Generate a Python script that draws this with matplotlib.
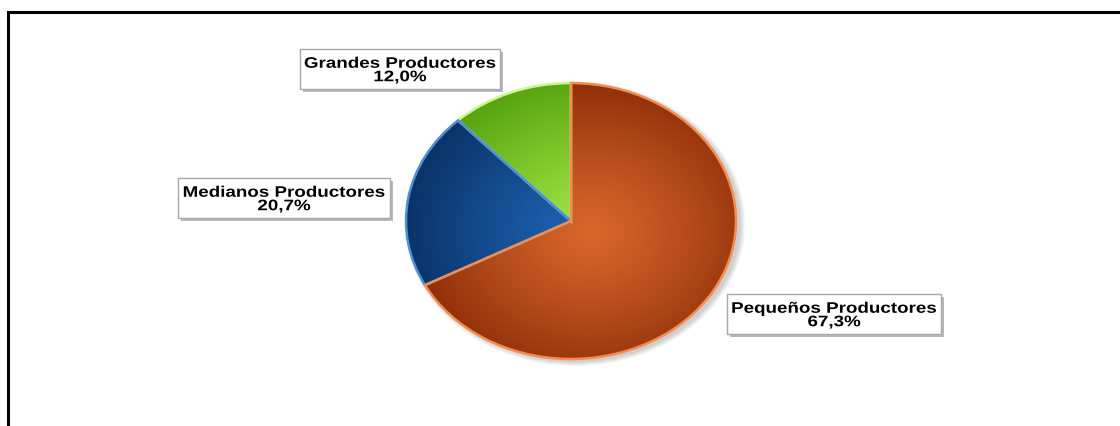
import numpy as np
import matplotlib.pyplot as plt
from matplotlib.colors import to_rgb
from matplotlib.lines import Line2D
from matplotlib.patches import Rectangle, Ellipse
from matplotlib.transforms import Affine2D
import matplotlib.patheffects as pe

categorias = ["Grandes Productores", "Medianos Productores", "Pequeños Productores"]
porcentajes = [12.0, 20.7, 67.3]

# colores de cada porción: centro claro, borde oscuro, contorno
color_claro = ["#a2e645", "#1e64b6", "#d8662b"]
color_oscuro = ["#55a20e", "#0a3266", "#8a2b06"]
color_borde = ["#cdf592", "#4f8fd6", "#f68d50"]

# cajas de las etiquetas en px: (izq, arriba, der, abajo)
cajas = [(300, 50, 500, 90), (178, 179, 390, 219), (727, 295, 941, 335)]

W, H = 1120, 427
fig = plt.figure(figsize=(W / 100, H / 100), dpi=100)
fig.patch.set_facecolor("white")


class Estirar(pe.AbstractPathEffect):
    """Ensancha horizontalmente el texto alrededor de un punto (px)."""

    def __init__(self, sx, x0):
        super().__init__()
        self.sx = sx
        self.x0 = x0

    def draw_path(self, renderer, gc, tpath, affine, rgbFace=None):
        extra = Affine2D().translate(-self.x0, 0).scale(self.sx, 1).translate(self.x0, 0)
        renderer.draw_path(gc, tpath, affine + extra, rgbFace)


# marco negro (superior e izquierdo)
fig.add_artist(Line2D([8 / W, 1], [1 - 13 / H, 1 - 13 / H], color="black", lw=2.2,
                      transform=fig.transFigure))
fig.add_artist(Line2D([8 / W, 8 / W], [0, 1 - 13 / H], color="black", lw=2.2,
                      transform=fig.transFigure))

# pastel elíptico
m = 1.08
cx, cy, rx, ry = 571, 222, 165, 138
ax = fig.add_axes([(cx - rx * m) / W, (H - cy - ry * m) / H, 2 * rx * m / W, 2 * ry * m / H])
ax.set_facecolor("none")

# sombra suave detrás del pastel
for k in range(6):
    ax.add_patch(Ellipse((0.025, -0.02), 2 + 0.012 * k, 2 + 0.012 * k,
                         color="#808080", alpha=0.07, lw=0, zorder=0))

wedges, _ = ax.pie(porcentajes, startangle=90, counterclock=True, radius=1,
                   wedgeprops=dict(linewidth=1.8, facecolor="none"))
ax.set_aspect("auto")
ax.set_xlim(-m, m)
ax.set_ylim(-m, m)
ax.axis("off")

xs = np.linspace(-m, m, 400)
X, Y = np.meshgrid(xs, xs[::-1])
for w, c1, c2, ce in zip(wedges, color_claro, color_oscuro, color_borde):
    r = np.hypot(X - 0.12, Y + 0.08) / 1.15
    t = np.clip(r, 0, 1) ** 1.2
    a = np.array(to_rgb(c1))
    b = np.array(to_rgb(c2))
    img = a * (1 - t[..., None]) + b * t[..., None]
    im = ax.imshow(img, extent=(-m, m, -m, m), aspect="auto", zorder=1)
    im.set_clip_path(w)
    w.set_edgecolor(ce)
    w.set_zorder(2)

# etiquetas con caja y sombra
for cat, p, (x0, y0, x1, y1) in zip(categorias, porcentajes, cajas):
    caja = Rectangle((x0 / W, 1 - y1 / H), (x1 - x0) / W, (y1 - y0) / H,
                     transform=fig.transFigure, fc="white", ec="#a8a8a8", lw=1,
                     zorder=5)
    caja.set_path_effects([pe.SimplePatchShadow(offset=(2.5, -2.5),
                                                shadow_rgbFace="#9a9a9a", alpha=0.7),
                           pe.Normal()])
    fig.add_artist(caja)
    xc = (x0 + x1) / 2
    yc = (y0 + y1) / 2 + 1.5
    txt = f"{cat}\n{p:.1f}%".replace(".", ",")
    fig.text(xc / W, 1 - yc / H, txt, ha="center", va="center",
             fontsize=11, fontweight="bold", family="Liberation Sans",
             linespacing=0.95, color="black", zorder=6,
             path_effects=[Estirar(1.23, xc)])

fig.savefig("out.png", dpi=100)
